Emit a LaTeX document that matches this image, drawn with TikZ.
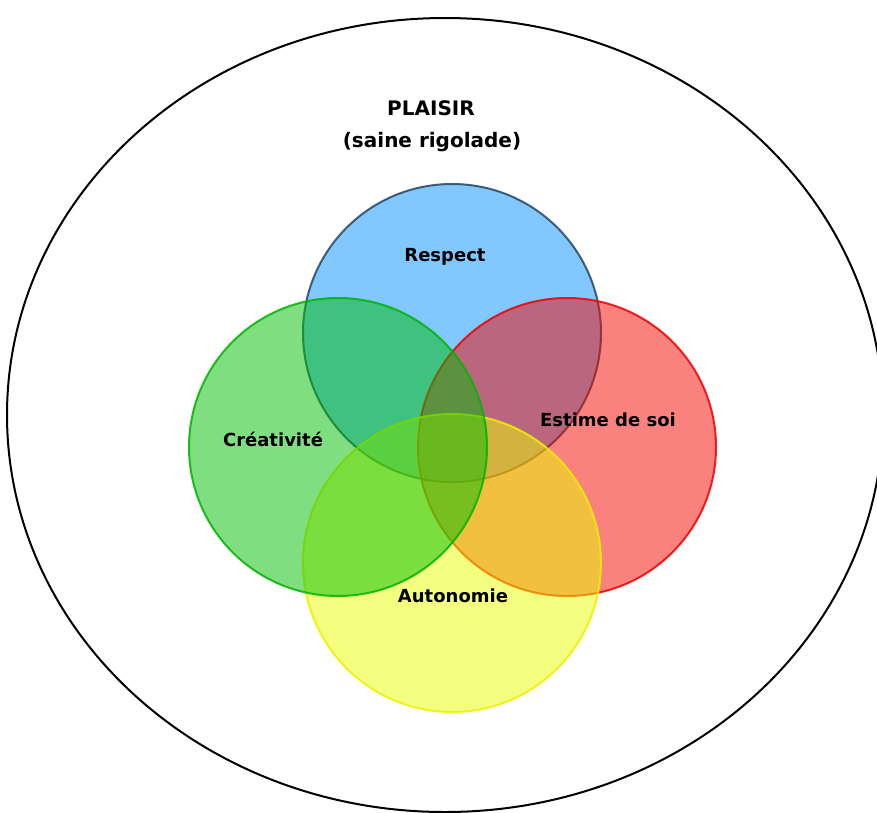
\documentclass[tikz,border=0pt]{standalone}
\usepackage{fontspec}
\setmainfont{DejaVu Sans}
\usetikzlibrary{shapes.geometric}
\begin{document}
\begin{tikzpicture}[x=1pt,y=-1pt,
  lbl/.style={font=\bfseries\fontsize{18}{21}\selectfont, text=black, inner sep=0pt},
  ttl/.style={font=\bfseries\fontsize{20}{24}\selectfont, text=black, inner sep=0pt},
  venn/.style={line width=2pt, fill opacity=0.5, draw opacity=0.85, circle, minimum size=298pt, inner sep=0pt}]
\definecolor{cblue}{RGB}{2,146,255}
\definecolor{cblueline}{RGB}{40,70,95}
\definecolor{cgreen}{RGB}{0,190,0}
\definecolor{cgreenline}{RGB}{0,180,0}
\definecolor{cred}{RGB}{245,6,0}
\definecolor{credline}{RGB}{240,0,0}
\definecolor{cyellow}{RGB}{236,255,0}
\definecolor{cyellowline}{RGB}{238,240,0}
\useasboundingbox (0,0) rectangle (877,812);
\fill[white] (0,0) rectangle (877,812);
\begin{scope}
\clip (0,0) rectangle (877,812);
\node[draw=black, line width=2pt, ellipse, minimum width=876pt, minimum height=794pt, inner sep=0pt] (plaisirzone) at (445,415) {};
\end{scope}
\node[venn, draw=cblueline, fill=cblue] (respect) at (452,333) {};
\node[venn, draw=credline, fill=cred] (estime) at (567,447) {};
\node[venn, draw=cyellowline, fill=cyellow] (auto) at (452,563) {};
\node[venn, draw=cgreenline, fill=cgreen] (creat) at (338,447) {};
\node[ttl] (t1) at (431,108) {PLAISIR};
\node[ttl] (t2) at (432,142) {(saine rigolade)};
\node[lbl] (l1) at (445,257) {Respect};
\node[lbl] (l2) at (273,439) {Créativité};
\node[lbl] (l3) at (608,420) {Estime de soi};
\node[lbl] (l4) at (453,596) {Autonomie};
\end{tikzpicture}
\end{document}
